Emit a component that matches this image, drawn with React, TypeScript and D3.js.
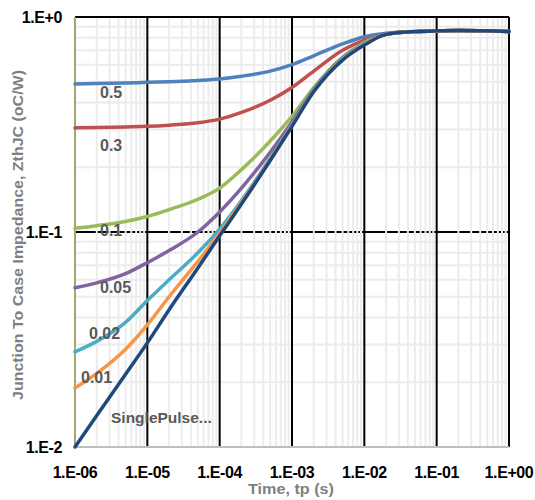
import React, { useEffect, useRef } from "react";
import * as d3 from "d3";

const times = [
  1e-6, 2e-6, 5e-6, 1e-5, 2e-5, 5e-5, 1e-4, 2e-4, 5e-4, 1e-3, 2e-3, 5e-3,
  1e-2, 2e-2, 5e-2, 1e-1, 2e-1, 5e-1, 1,
];

const tail = [0.83, 0.855, 0.862, 0.865, 0.862, 0.857];

const duty05 = [0.488, 0.49, 0.493, 0.497, 0.5, 0.507, 0.515, 0.53, 0.56, 0.6, 0.66, 0.75, 0.81, 0.84, 0.857, 0.862, 0.865, 0.862, 0.857];
const duty03 = [0.305, 0.306, 0.308, 0.31, 0.314, 0.322, 0.335, 0.36, 0.41, 0.47, 0.56, 0.7, 0.78, ...tail];
const duty01 = [0.104, 0.107, 0.112, 0.118, 0.127, 0.142, 0.16, 0.195, 0.265, 0.345, 0.47, 0.65, 0.76, ...tail];
const duty005 = [0.055, 0.058, 0.064, 0.072, 0.082, 0.1, 0.124, 0.16, 0.235, 0.325, 0.46, 0.645, 0.75, ...tail];
const duty002 = [0.0277, 0.031, 0.038, 0.048, 0.06, 0.08, 0.103, 0.14, 0.22, 0.315, 0.455, 0.64, 0.75, ...tail];
const duty001 = [0.0188, 0.022, 0.0285, 0.037, 0.05, 0.073, 0.099, 0.137, 0.217, 0.312, 0.45, 0.635, 0.745, ...tail];
const single = [0.01, 0.014, 0.0218, 0.0305, 0.0435, 0.068, 0.096, 0.135, 0.215, 0.31, 0.45, 0.63, 0.74, ...tail];

const series = [
  { name: "0.5", values: duty05, color: "#4f81bd", lx: 100, ly: 92 },
  { name: "0.3", values: duty03, color: "#c0504d", lx: 100, ly: 145 },
  { name: "0.1", values: duty01, color: "#9bbb59", lx: 100, ly: 230 },
  { name: "0.05", values: duty005, color: "#8064a2", lx: 100, ly: 287 },
  { name: "0.02", values: duty002, color: "#4bacc6", lx: 89, ly: 333 },
  { name: "0.01", values: duty001, color: "#f79646", lx: 81, ly: 377 },
  { name: "SinglePulse...", values: single, color: "#1f497d", lx: 111, ly: 417 },
];

const xTicks = [1e-6, 1e-5, 1e-4, 1e-3, 1e-2, 1e-1, 1];
const xTickLabels = ["1.E-06", "1.E-05", "1.E-04", "1.E-03", "1.E-02", "1.E-01", "1.E+00"];
const yTicks = [0.01, 0.1, 1];
const yTickLabels = ["1.E-2", "1.E-1", "1.E+0"];

export default function App() {
  const ref = useRef<SVGSVGElement>(null);

  useEffect(() => {
    if (!ref.current) return;
    const svg = d3.select(ref.current);
    svg.selectAll("*").remove();

    const left = 75, right = 509, top = 17, bottom = 447;
    const x = d3.scaleLog().domain([1e-6, 1]).range([left, right]);
    const y = d3.scaleLog().domain([0.01, 1]).range([bottom, top]);

    svg.append("rect").attr("width", 535).attr("height", 500).attr("fill", "#fff");

    const minorX: number[] = [];
    for (let e = -6; e < 0; e++) for (let k = 2; k <= 9; k++) minorX.push(k * Math.pow(10, e));
    const minorY: number[] = [];
    for (let e = -2; e < 0; e++) for (let k = 2; k <= 9; k++) minorY.push(k * Math.pow(10, e));

    const grid = svg.append("g");
    grid.selectAll(".my").data(minorY).enter().append("line")
      .attr("x1", left).attr("x2", right)
      .attr("y1", (d) => y(d)).attr("y2", (d) => y(d))
      .attr("stroke", "#ececec").attr("stroke-width", 2);
    // major horizontal (minor verticals drawn over it break it up)
    grid.selectAll(".My").data(yTicks.slice(1)).enter().append("line")
      .attr("x1", left).attr("x2", right)
      .attr("y1", (d) => y(d)).attr("y2", (d) => y(d))
      .attr("stroke", "#000").attr("stroke-width", 2);
    grid.selectAll(".mx").data(minorX).enter().append("line")
      .attr("y1", top + 1).attr("y2", bottom)
      .attr("x1", (d) => x(d)).attr("x2", (d) => x(d))
      .attr("stroke", "#ececec").attr("stroke-width", 2);
    grid.selectAll(".Mx").data(xTicks.slice(1)).enter().append("line")
      .attr("y1", top).attr("y2", bottom)
      .attr("x1", (d) => x(d)).attr("x2", (d) => x(d))
      .attr("stroke", "#000").attr("stroke-width", 2);

    svg.append("line").attr("x1", left).attr("x2", right).attr("y1", bottom).attr("y2", bottom)
      .attr("stroke", "#bfbfbf").attr("stroke-width", 2);
    svg.append("line").attr("x1", left).attr("x2", left).attr("y1", top).attr("y2", bottom)
      .attr("stroke", "#a8a574").attr("stroke-width", 2);

    const line = d3.line<number>()
      .x((_d, i) => x(times[i]))
      .y((d) => y(d))
      .curve(d3.curveMonotoneX);

    const font = "'Liberation Sans', Arial, sans-serif";
    series.forEach((s) => {
      svg.append("path").datum(s.values)
        .attr("d", line)
        .attr("fill", "none")
        .attr("stroke", s.color)
        .attr("stroke-width", 3.5)
        .attr("stroke-linecap", "round");
    });
    series.forEach((s) => {
      svg.append("text")
        .attr("x", s.lx).attr("y", s.ly + 5.5)
        .style("font-family", font)
        .style("font-size", s.name.length > 5 ? "15.5px" : "16px")
        .style("font-weight", "bold")
        .style("fill", "#595959")
        .text(s.name);
    });

    xTicks.forEach((t, i) => {
      svg.append("text")
        .attr("x", x(t)).attr("y", 478)
        .attr("text-anchor", "middle")
        .style("font-family", font)
        .style("font-size", "16px")
        .style("font-weight", "bold")
        .style("letter-spacing", "-0.4px")
        .style("fill", "#000")
        .text(xTickLabels[i]);
    });
    yTicks.forEach((t, i) => {
      svg.append("text")
        .attr("x", 62).attr("y", y(t) + 5.5)
        .attr("text-anchor", "end")
        .style("font-family", font)
        .style("font-size", "16px")
        .style("font-weight", "bold")
        .style("letter-spacing", "-0.4px")
        .style("fill", "#000")
        .text(yTickLabels[i]);
    });

    svg.append("text")
      .attr("x", 291).attr("y", 494)
      .attr("text-anchor", "middle")
      .attr("textLength", 86)
      .attr("lengthAdjust", "spacingAndGlyphs")
      .style("font-family", font)
      .style("font-size", "15.5px")
      .style("font-weight", "bold")
      .style("fill", "#7f7f7f")
      .text("Time, tp (s)");

    svg.append("text")
      .attr("transform", "translate(23,235) rotate(-90)")
      .attr("text-anchor", "middle")
      .attr("textLength", 330)
      .attr("lengthAdjust", "spacingAndGlyphs")
      .style("font-family", font)
      .style("font-size", "15.5px")
      .style("font-weight", "bold")
      .style("fill", "#7f7f7f")
      .text("Junction To Case Impedance, ZthJC (oC/W)");
  }, []);

  return (
    <svg
      ref={ref}
      width={535}
      height={500}
      style={{ position: "absolute", left: 0, top: 0 }}
    />
  );
}
